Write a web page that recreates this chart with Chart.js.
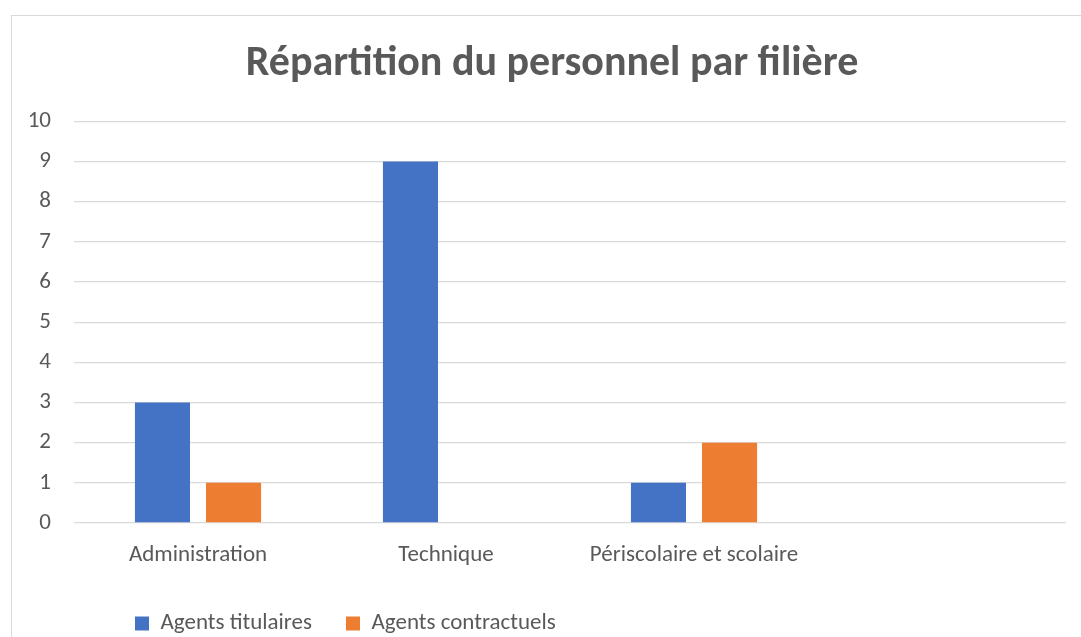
<!DOCTYPE html>
<html>
<head>
<meta charset="utf-8">
<script src="https://cdn.jsdelivr.net/npm/chart.js@4"></script>
<style>
    html, body {
        margin: 0;
        padding: 0;
        background: #ffffff;
        overflow: hidden;
    }
    #frame {
        position: absolute;
        left: 11px;
        top: 15px;
        width: 1100px;
        height: 660px;
        border-left: 1px solid #d9d9d9;
        border-top: 1px solid #d9d9d9;
    }
    #wrap {
        position: absolute;
        left: 0;
        top: 0;
        width: 1081px;
        height: 637px;
    }
</style>
</head>
<body>
<div id="frame"></div>
<div id="wrap"><canvas id="filiereChart"></canvas></div>
<script>
const categories = [
    "Administration",
    "Technique",
    "Périscolaire et scolaire",
    ""
];

const titulaires = [3, 9, 1, null];
const contractuels = [1, 0, 2, null];

const yTicks = [0, 1, 2, 3, 4, 5, 6, 7, 8, 9, 10];

const textColor = "#595959";
const gridColor = "#d9d9d9";
const fontFamily = "Carlito, Calibri, 'Open Sans', sans-serif";

// legend and title sit a bit to the right, like in the spreadsheet
const blockShift = {
    id: "blockShift",
    afterLayout(chart) {
        chart.legend.left = 101;
        chart.titleBlock.left += 38;
    }
};

const ctx =
    document.getElementById(
        "filiereChart"
    );

const filiereChart = new Chart(
    ctx,
    {
        type: "bar",
        data: {
            labels: categories,
            datasets: [
                {
                    label: "Agents titulaires",
                    data: titulaires,
                    backgroundColor: "#4472C4"
                },
                {
                    label: "Agents contractuels",
                    data: contractuels,
                    backgroundColor: "#ED7D31"
                }
            ]
        },
        options: {
            responsive: true,
            maintainAspectRatio: false,
            animation: false,
            categoryPercentage: 0.573,
            barPercentage: 0.775,
            layout: {
                padding: {
                    left: 0,
                    right: 15,
                    top: 0,
                    bottom: -8
                }
            },
            plugins: {
                title: {
                    display: true,
                    text: "Répartition du personnel par filière",
                    color: textColor,
                    font: {
                        family: fontFamily,
                        size: 42,
                        weight: "bold"
                    },
                    padding: {
                        top: 39,
                        bottom: 32
                    }
                },
                legend: {
                    position: "bottom",
                    align: "start",
                    labels: {
                        color: textColor,
                        boxWidth: 14,
                        boxHeight: 14,
                        padding: 34,
                        font: {
                            family: fontFamily,
                            size: 23
                        }
                    }
                },
                tooltip: {
                    enabled: false
                }
            },
            scales: {
                x: {
                    grid: {
                        display: false
                    },
                    border: {
                        display: false
                    },
                    ticks: {
                        color: textColor,
                        padding: 10,
                        maxRotation: 0,
                        font: {
                            family: fontFamily,
                            size: 23
                        }
                    },
                    afterFit: (scale) => {
                        scale.height = 55;
                    }
                },
                y: {
                    min: 0,
                    max: 10,
                    afterBuildTicks: (scale) => {
                        scale.ticks = yTicks.map(v => ({ value: v }));
                    },
                    grid: {
                        color: gridColor,
                        lineWidth: 1.3,
                        drawTicks: false
                    },
                    border: {
                        display: false
                    },
                    ticks: {
                        color: textColor,
                        padding: 23,
                        font: {
                            family: fontFamily,
                            size: 23
                        }
                    },
                    afterFit: (scale) => {
                        scale.width = 74;
                    }
                }
            }
        },
        plugins: [blockShift]
    }
);
</script>
</body>
</html>
